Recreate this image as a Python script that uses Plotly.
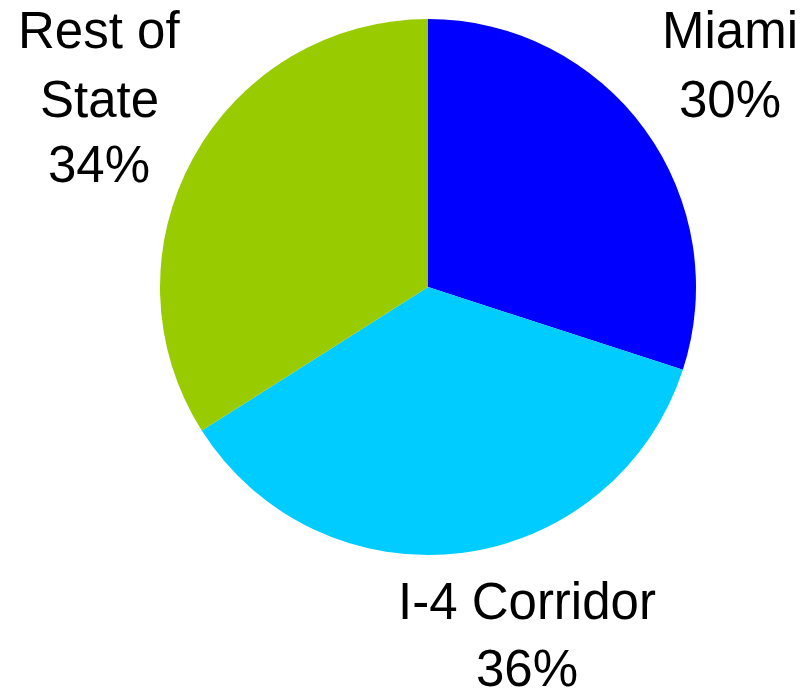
import plotly.graph_objects as go

# Share of the total by region
regions = ["Miami", "I-4 Corridor", "Rest of State"]
shares = [30, 36, 34]
label_lines = [["Miami"], ["I-4 Corridor"], ["Rest of", "State"]]
colors = ["#0000FF", "#00CCFF", "#99CC00"]

W, H = 804, 697
cx, cy, r = 428, 287, 268  # pie centre and radius in pixels

fig = go.Figure(
    go.Pie(
        labels=regions,
        values=shares,
        sort=False,
        direction="clockwise",
        rotation=0,
        marker=dict(colors=colors, line=dict(width=0)),
        textinfo="none",
        hoverinfo="label+percent",
        domain=dict(
            x=[(cx - r) / W, (cx + r) / W],
            y=[1 - (cy + r) / H, 1 - (cy - r) / H],
        ),
        showlegend=False,
    )
)

# Outside labels, one annotation per line: x centre and the y of each line (pixels from top)
label_pos = {
    "Miami": (730, [31, 100]),
    "I-4 Corridor": (527, [601, 668]),
    "Rest of State": (99, [31, 99, 165]),
}
total = sum(shares)
for name, lines, v in zip(regions, label_lines, shares):
    px, ys = label_pos[name]
    texts = lines + [f"{round(100 * v / total)}%"]
    for text, py in zip(texts, ys):
        fig.add_annotation(
            x=px / W,
            y=1 - py / H,
            xref="paper",
            yref="paper",
            xanchor="center",
            yanchor="middle",
            text=text,
            showarrow=False,
            align="center",
            font=dict(family="Liberation Sans, Arial, sans-serif", size=51, color="#000000"),
        )

fig.update_layout(
    width=W,
    height=H,
    margin=dict(l=0, r=0, t=0, b=0),
    paper_bgcolor="#FFFFFF",
    plot_bgcolor="#FFFFFF",
)

fig.write_html("out.html")
